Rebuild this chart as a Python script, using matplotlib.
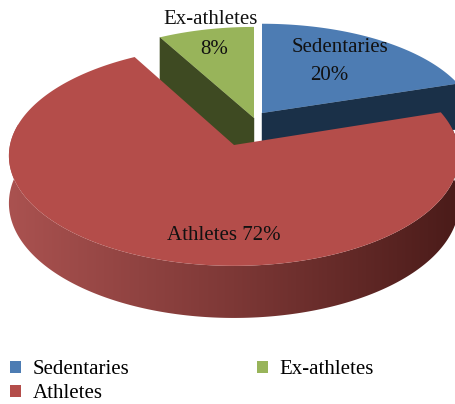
import numpy as np
import matplotlib
matplotlib.use("Agg")
import matplotlib.pyplot as plt
from matplotlib.colors import LinearSegmentedColormap
from matplotlib.patches import Polygon, Patch

plt.rcParams['font.family'] = ['Liberation Serif', 'DejaVu Serif']

categories = ["Sedentaries", "Athletes", "Ex-athletes"]
values = [20, 72, 8]

top_colors = {"Sedentaries": "#4d7cb3", "Ex-athletes": "#98b45a", "Athletes": "#b44d4a"}
wall_colors = {"Sedentaries": "#1a3048", "Ex-athletes": "#3e4a22"}
# slice centre and radii in pixels, each slice is pulled out by a different amount
geom = {
    "Sedentaries": (262, 113, 212, 98),
    "Ex-athletes": (254, 118, 212, 100),
    "Athletes": (234, 145, 224, 109),
}
label_pos = {
    "Sedentaries": [(340, 48), (329, 75)],
    "Ex-athletes": [(211, 20), (214, 49)],
    "Athletes": [(224, 235)],
}
K = 0.098
DEPTH = 47
FS = 15


def project(name, theta, r=1.0, drop=0.0):
    cx, cy, rx, ry = geom[name]
    u = r * np.cos(theta)
    v = r * np.sin(theta)
    s = 1 / (1 + K * v)
    return cx + rx * u * s, cy - ry * v * s + drop * s


def wall(ax, name, theta):
    # straight cut face going from the rim to the centre
    x0, y0 = project(name, theta)
    x1, y1 = project(name, theta, r=0)
    x2, y2 = project(name, theta, r=0, drop=DEPTH)
    x3, y3 = project(name, theta, drop=DEPTH)
    ax.add_patch(Polygon([(x0, y0), (x1, y1), (x2, y2), (x3, y3)],
                         fc=wall_colors[name], ec=wall_colors[name], lw=0.3, zorder=2))


fig = plt.figure(figsize=(4.56, 4.04), dpi=100)
ax = fig.add_axes([0, 0, 1, 1])

# slices run clockwise from 12 o'clock
fractions = np.array(values) / sum(values)
start = np.pi / 2
spans = {}
for name, frac in zip(categories, fractions):
    spans[name] = (start, start - 2 * np.pi * frac)
    start = spans[name][1]

# cut faces of the two back slices
wall(ax, "Sedentaries", spans["Sedentaries"][1])
wall(ax, "Ex-athletes", spans["Ex-athletes"][0])

# top faces of the back slices
for name in ["Sedentaries", "Ex-athletes"]:
    t = np.linspace(spans[name][0], spans[name][1], 120)
    xs, ys = project(name, t)
    cx, cy = geom[name][:2]
    pts = [(cx, cy)] + list(zip(xs, ys))
    ax.add_patch(Polygon(pts, fc=top_colors[name], ec="none", zorder=3))

# rim of the big slice, shaded from left to right
t0, t1 = spans["Athletes"]
t = np.linspace(t0, t1, 400)
t = t[np.sin(t) < 0.2]
xs, ys = project("Athletes", t)
xb, yb = project("Athletes", t, drop=DEPTH)
rim = Polygon(list(zip(xs, ys)) + list(zip(xb[::-1], yb[::-1])), fc="none", ec="none", zorder=4)
ax.add_patch(rim)
rim_cmap = LinearSegmentedColormap.from_list("rim", ["#aa5250", "#7d3836", "#4a1b19"])
img = ax.imshow(np.linspace(0, 1, 256).reshape(1, -1), cmap=rim_cmap, aspect="auto",
                extent=(8, 460, 330, 100), zorder=4)
img.set_clip_path(rim)

# top face of the big slice
t = np.linspace(t0, t1, 400)
xs, ys = project("Athletes", t)
cx, cy = geom["Athletes"][:2]
ax.add_patch(Polygon([(cx, cy)] + list(zip(xs, ys)), fc=top_colors["Athletes"], ec="none", zorder=5))

# labels
for name, val in zip(categories, values):
    pos = label_pos[name]
    if len(pos) == 2:
        ax.text(pos[0][0], pos[0][1], name, ha="center", va="center", fontsize=FS, color="#111111", zorder=6)
        ax.text(pos[1][0], pos[1][1], f"{val}%", ha="center", va="center", fontsize=FS, color="#111111", zorder=6)
    else:
        ax.text(pos[0][0], pos[0][1], f"{name} {val}%", ha="center", va="center", fontsize=FS, color="#111111", zorder=6)

ax.set_xlim(0, 456)
ax.set_ylim(404, 0)
ax.axis("off")

handles = [Patch(fc=top_colors[n], ec="none", label=n) for n in categories]
ax.legend(handles=handles, ncol=2, loc="lower left", bbox_to_anchor=(10 / 456, 0.5 / 404),
          frameon=False, fontsize=FS, handlelength=0.55, handleheight=0.55, handletextpad=0.55,
          labelspacing=0.25, columnspacing=6.1, borderpad=0, borderaxespad=0)

fig.savefig("out.png", dpi=100)
